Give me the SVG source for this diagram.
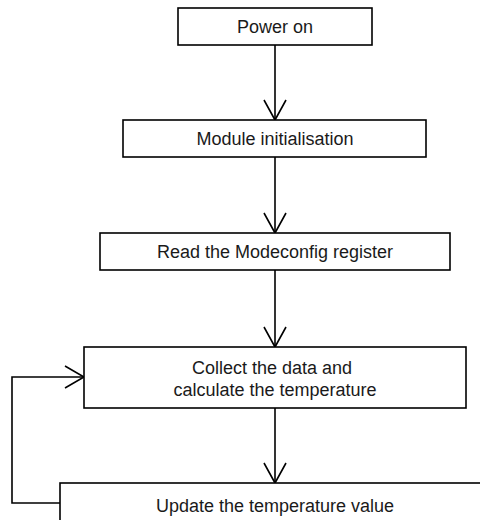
<svg xmlns="http://www.w3.org/2000/svg" width="480" height="520" viewBox="0 0 480 520">
<style>
.box{fill:#fff;stroke:#000;stroke-width:1.6}
.lbl{font-family:"Liberation Sans",Arial,sans-serif;font-size:18px;fill:#1a1a1a;text-anchor:middle}
.con{fill:none;stroke:#000;stroke-width:1.6}
.head{fill:none;stroke:#000;stroke-width:1.6;stroke-linejoin:miter}
</style>
<rect width="480" height="520" fill="#fff"/>
<g id="connectors">
<line class="con" x1="275" y1="45" x2="275" y2="120"/>
<polyline class="head" points="264,100 275,120 286,100"/>
<line class="con" x1="275" y1="157" x2="275" y2="233"/>
<polyline class="head" points="264,213 275,233 286,213"/>
<line class="con" x1="275" y1="270" x2="275" y2="347"/>
<polyline class="head" points="264,327 275,347 286,327"/>
<line class="con" x1="275" y1="408" x2="275" y2="483"/>
<polyline class="head" points="264,463 275,483 286,463"/>
<polyline class="con" points="60,503 12,503 12,377 84,377"/>
<polyline class="head" points="65,366 84,377 65,388"/>
</g>
<g id="power-on">
<rect class="box" x="178" y="8" width="194" height="37"/>
<text class="lbl" x="275" y="33">Power on</text>
</g>
<g id="module-init">
<rect class="box" x="123" y="120" width="303" height="37"/>
<text class="lbl" x="275" y="145">Module initialisation</text>
</g>
<g id="read-modeconfig">
<rect class="box" x="100" y="233" width="350" height="37"/>
<text class="lbl" x="275" y="258">Read the Modeconfig register</text>
</g>
<g id="collect-data">
<rect class="box" x="84" y="347" width="382" height="61"/>
<text class="lbl" x="272" y="374">Collect the data and</text>
<text class="lbl" x="275" y="396">calculate the temperature</text>
</g>
<g id="update-temp">
<rect class="box" x="60" y="483" width="432" height="60"/>
<text class="lbl" x="275" y="512">Update the temperature value</text>
</g>
</svg>
